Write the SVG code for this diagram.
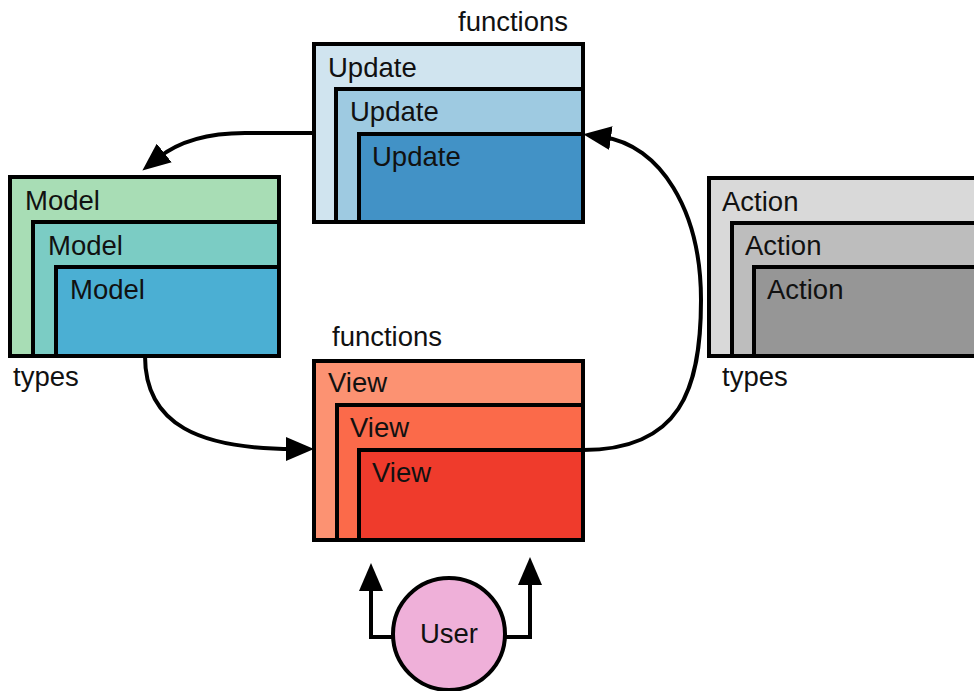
<svg xmlns="http://www.w3.org/2000/svg" width="974" height="691" viewBox="0 0 974 691">
<style>
  .box { stroke: #000; stroke-width: 4; }
  .lbl { font-family: "Liberation Sans", Arial, sans-serif; font-size: 27.5px; fill: #111; }
  .conn { fill: none; stroke: #000; stroke-width: 4; }
</style>
<defs>
  <marker id="ah" markerUnits="userSpaceOnUse" markerWidth="30" markerHeight="24" refX="8" refY="12" orient="auto">
    <path d="M0,0 L28,12 L0,24 z" fill="#000"/>
  </marker>
</defs>
<rect width="974" height="691" fill="#fff"/>

<g id="update">
  <rect class="box" x="314" y="44" width="269" height="178" fill="#d0e4ef"/>
  <rect class="box" x="336" y="89" width="247" height="133" fill="#9ecae1"/>
  <rect class="box" x="359" y="134" width="224" height="88" fill="#4292c6"/>
  <text class="lbl" x="328" y="77">Update</text>
  <text class="lbl" x="350" y="121">Update</text>
  <text class="lbl" x="372" y="166">Update</text>
  <text class="lbl" x="458" y="31">functions</text>
</g>

<g id="model">
  <rect class="box" x="10" y="177" width="269" height="179" fill="#a8ddb5"/>
  <rect class="box" x="33" y="222" width="246" height="134" fill="#7bccc4"/>
  <rect class="box" x="56" y="267" width="223" height="89" fill="#4bafd3"/>
  <text class="lbl" x="25" y="210">Model</text>
  <text class="lbl" x="48" y="255">Model</text>
  <text class="lbl" x="70" y="299">Model</text>
  <text class="lbl" x="13" y="386">types</text>
</g>

<g id="action">
  <rect class="box" x="709" y="178" width="300" height="178" fill="#d9d9d9"/>
  <rect class="box" x="732" y="223" width="277" height="133" fill="#bdbdbd"/>
  <rect class="box" x="754" y="267" width="255" height="89" fill="#969696"/>
  <text class="lbl" x="722" y="211">Action</text>
  <text class="lbl" x="745" y="255">Action</text>
  <text class="lbl" x="767" y="299">Action</text>
  <text class="lbl" x="722" y="386">types</text>
</g>

<g id="view">
  <rect class="box" x="314" y="361" width="269" height="179" fill="#fc9272"/>
  <rect class="box" x="337" y="405" width="246" height="135" fill="#fb6a4a"/>
  <rect class="box" x="359" y="450" width="224" height="90" fill="#ef3b2c"/>
  <text class="lbl" x="328" y="392">View</text>
  <text class="lbl" x="350" y="437">View</text>
  <text class="lbl" x="372" y="482">View</text>
  <text class="lbl" x="332" y="346">functions</text>
</g>

<g id="user">
  <circle cx="449" cy="634" r="56" fill="#efb0d9" stroke="#000" stroke-width="4"/>
  <text class="lbl" x="449" y="643" text-anchor="middle">User</text>
</g>

<g id="connectors">
  <path class="conn" d="M314,133 L245,133 C205,133 178,142 158,158" marker-end="url(#ah)"/>
  <path class="conn" d="M145,356 C145,425 200,449 294,449" marker-end="url(#ah)"/>
  <path class="conn" d="M583,450 C680,450 701,390 701,300 C701,210 660,145 603,137" marker-end="url(#ah)"/>
  <path class="conn" d="M393,637 L371,637 L371,583" marker-end="url(#ah)"/>
  <path class="conn" d="M505,637 L530,637 L530,577" marker-end="url(#ah)"/>
</g>
</svg>
